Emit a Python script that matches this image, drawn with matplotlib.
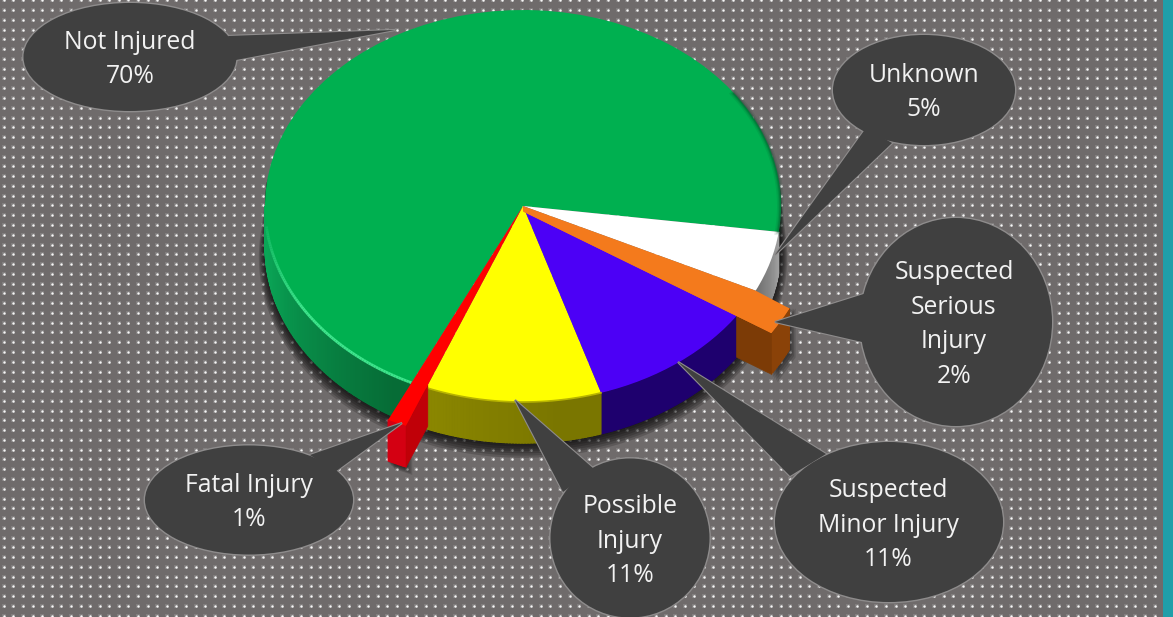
import numpy as np
import matplotlib
matplotlib.use("Agg")
import matplotlib.pyplot as plt
from matplotlib.patches import Ellipse, Polygon, Rectangle
from matplotlib.collections import PolyCollection, LineCollection

# ---- data ----
categories = ["Not Injured", "Fatal Injury", "Possible Injury",
              "Suspected Minor Injury", "Suspected Serious Injury", "Unknown"]
values = [70, 1, 11, 11, 2, 5]
label_lines = ["Not Injured", "Fatal Injury", "Possible\nInjury",
               "Suspected\nMinor Injury", "Suspected\nSerious\nInjury", "Unknown"]
colors = ["#00b050", "#ff0000", "#ffff00", "#4c00f6", "#f47a1c", "#ffffff"]

W, H = 1173, 617
plt.rcParams["font.family"] = ["Open Sans", "DejaVu Sans"]
fig = plt.figure(figsize=(W / 100, H / 100), dpi=100)

# background (pixel coordinates)
bg = fig.add_axes([0, 0, 1, 1])
bg.set_xlim(0, W); bg.set_ylim(H, 0); bg.axis("off")
bg.add_patch(Rectangle((0, 0), W, H, fc="#6f6b6b", ec="none"))
gx, gy = np.meshgrid(np.arange(3.8, 1163, 9.59), np.arange(0.3, H + 5, 9.77))
bg.scatter(gx.ravel(), gy.ravel(), s=8, c="#ffffff", alpha=0.13, linewidths=0, marker="s")
bg.scatter(gx.ravel(), gy.ravel(), s=3.0, c="#f8f8f8", linewidths=0)
bg.add_patch(Rectangle((1163, 0), 10, H, fc="#1f9fa9", ec="none", zorder=3))

# pie axes: one unit = 258 px across and 196 px down
CX, CY, RX, RY = 523, 206, 258, 196
pa = fig.add_axes([0, 0, 1, 1], facecolor="none")
DEPTH = 0.21
START = -7.6
fr = np.array(values) / sum(values)
bounds = START + 360 * np.concatenate([[0], np.cumsum(fr)])
radii = [1, 1.21, 1, 1, 1.145, 1]
drop = [0, 0, 0, 0, 0.028, 0]


def pt(a, r=1.0, dy=0.0):
    t = np.radians(a)
    return np.column_stack([r * np.cos(t), r * np.sin(t) - dy])


def mix(c1, c2, f):
    c1, c2 = np.array(matplotlib.colors.to_rgb(c1)), np.array(matplotlib.colors.to_rgb(c2))
    return tuple(c1 + (c2 - c1) * np.clip(f, 0, 1))


def wall(a0, a1, r, colfn, z, d=DEPTH, base=0.0):
    lo, hi = a0, a1
    if lo < 180 and hi > 180:
        lo = 180
    if hi <= 180:
        return
    a = np.linspace(lo, hi, max(int((hi - lo) * 1.5), 2) + 1)
    # solid underlay so the strips leave no seams
    under = np.vstack([pt(a, r, base), pt(a[::-1], r, base + d)])
    pa.add_patch(Polygon(under, fc=colfn((lo + hi) / 2), ec="none", zorder=z))
    polys, cols = [], []
    for p, q in zip(a[:-1], a[1:]):
        polys.append(np.vstack([pt(p, r, base), pt(q, r, base), pt(q, r, base + d), pt(p, r, base + d)]))
        cols.append(colfn((p + q) / 2))
    pa.add_collection(PolyCollection(polys, facecolors=cols, edgecolors=cols,
                                     linewidths=0.8, zorder=z))


# soft shadow under the body
a = np.linspace(172, 366, 200)
for k in range(7):
    off = DEPTH + 0.006 + 0.0075 * k
    top = pt(a, 1.0)
    low = pt(a, 1.0 + 0.004 * k, off)
    pa.add_patch(Polygon(np.vstack([top, low[::-1]]), fc="black", ec="none", alpha=0.17, zorder=1))
for i, (p, q) in {1: (bounds[1], bounds[2]), 4: (bounds[4], bounds[5])}.items():
    for k in range(5):
        off = DEPTH + 0.008 + 0.008 * k + drop[i]
        shape = np.vstack([pt(np.array([p, q]), radii[i], drop[i]), pt(np.array([q, p]), radii[i], off)])
        shape[:, 0] += 0.006 * k
        pa.add_patch(Polygon(shape, fc="black", ec="none", alpha=0.15, zorder=1))

wall_cols = [
    lambda t: mix("#0aa556", "#066c36", (t - 190) / 50),
    lambda t: "#d40012",
    lambda t: mix("#8b8700", "#7a7600", (t - 248) / 30),
    lambda t: "#1e006e",
    lambda t: "#8a4208",
    lambda t: mix("#6e6e6e", "#a0a0a0", (t - 334) / 18),
]
order = [0, 5, 3, 2]
for i in order:
    wall(bounds[i], bounds[i + 1], radii[i], wall_cols[i], 2)

wedges, _ = pa.pie(values, colors=colors, startangle=START, counterclock=True,
                   radius=1, frame=False)
for i, w in enumerate(wedges):
    w.set_radius(radii[i])
    w.set_center((0, -drop[i]))
    w.set_zorder(3 if radii[i] == 1 else 6)
    w.set_linewidth(0)

# the orange slice reaches back to the pie's apex, leaving no gap
i = 4
tip = pt(np.array([bounds[i + 1], bounds[i]]), radii[i], drop[i])
pa.add_patch(Polygon(np.vstack([[0, 0], pt(np.array([bounds[i + 1]]), 1.0), tip, [0, -drop[i]]]),
                     fc=colors[i], ec="none", zorder=6))

# exploded slices: radial side faces and outer walls
for i, edge, col in [(1, bounds[2], "#c00008"), (4, bounds[4], "#7c3b06")]:
    wall(bounds[i], bounds[i + 1], radii[i], wall_cols[i], 5, base=drop[i])
    rr = np.array([0.985, radii[i]])
    t = np.radians(edge)
    xs, ys = rr * np.cos(t), rr * np.sin(t) - drop[i]
    pa.add_patch(Polygon(np.column_stack([[xs[0], xs[1], xs[1], xs[0]],
                                          [ys[0], ys[1], ys[1] - DEPTH, ys[0] - DEPTH]]),
                         fc=col, ec=col, lw=0.5, zorder=5))

# rim light (fading in from the left) and dark edge
ah = np.linspace(186, bounds[1], 90)
h = pt(ah, 1.0)
segs = np.stack([h[:-1], h[1:]], axis=1)
seg_cols = [mix("#0fb75f", "#3ee58c", (t - 186) / 25) for t in ah[:-1]]
pa.add_collection(LineCollection(segs, colors=seg_cols, linewidths=2.0, zorder=4))
ad = np.linspace(-7.6, 35, 40)
for lw, al in [(5, 0.10), (3, 0.15), (1.5, 0.25)]:
    d_ = pt(ad, 0.998)
    pa.plot(d_[:, 0], d_[:, 1], color="#004020", lw=lw, alpha=al, zorder=4)
ay = np.linspace(bounds[2], bounds[3], 30)
y_ = pt(ay, 1.0)
pa.plot(y_[:, 0], y_[:, 1], color="#b8b400", lw=1.2, zorder=4)

pa.set_aspect("auto")
pa.set_xlim(-CX / RX, (W - CX) / RX)
pa.set_ylim((CY - H) / RY, CY / RY)
pa.axis("off")

# callouts (pixel coordinates)
ca = fig.add_axes([0, 0, 1, 1], facecolor="none")
ca.set_xlim(0, W); ca.set_ylim(H, 0); ca.axis("off")
DARK, EDGE, TXT = "#404040", "#8e8c8c", "#f2f2f2"
call = {
    "Not Injured": ((130, 57), 213, 108, [(395, 30), (228, 36), (236, 60)], (130, 59.5)),
    "Unknown": ((924, 90), 182, 110, [(775, 255), (866, 128), (892, 143)], (924, 92.5)),
    "Suspected Serious Injury": ((956, 322), 192, 208, [(775, 322), (870, 292), (862, 342)], (954, 324.5)),
    "Suspected Minor Injury": ((889, 522), 228, 160, [(678, 362), (790, 476), (826, 454)], (888, 525)),
    "Possible Injury": ((630, 538), 159, 159, [(515, 400), (563, 492), (594, 469)], (630, 541)),
    "Fatal Injury": ((249, 500), 208, 109, [(402, 423), (310, 455), (335, 472)], (249, 502.5)),
}
for cat, lab, v in zip(categories, label_lines, values):
    c, w_, h_, tail, tc = call[cat]
    ca.add_patch(Ellipse(c, w_, h_, fc=EDGE, ec=EDGE, lw=2.0, zorder=1))
    ca.add_patch(Polygon(tail, fc=EDGE, ec=EDGE, lw=1.6, joinstyle="miter", zorder=1))
    ca.add_patch(Ellipse(c, w_, h_, fc=DARK, ec="none", zorder=2))
    ca.add_patch(Polygon(tail, fc=DARK, ec="none", zorder=2))
    ca.text(tc[0], tc[1], f"{lab}\n{v}%", ha="center", va="center", ma="center",
            color=TXT, fontsize=17.8, linespacing=1.5, zorder=3)

fig.savefig("out.png", dpi=100)
